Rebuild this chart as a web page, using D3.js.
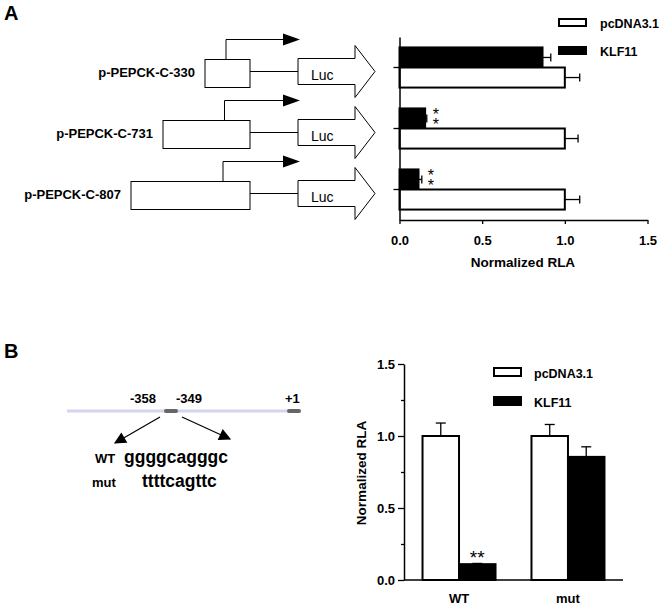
<!DOCTYPE html>
<html>
<head>
<meta charset="utf-8">
<script src="https://cdn.jsdelivr.net/npm/d3@7"></script>
<style>
  body { margin: 0; background: #fff; }
  svg text { font-family: "Liberation Sans", Arial, sans-serif; font-weight: bold; }
</style>
</head>
<body>
<div id="chart"></div>
<script>
// --- data: panel A ---
const constructs = ["p-PEPCK-C-330", "p-PEPCK-C-731", "p-PEPCK-C-807"];
const seriesNames = ["KLF11", "pcDNA3.1"];
const klfA = [0.865, 0.155, 0.115];
const klfAErr = [0.05, 0.01, 0.02];
const pcA = [1.0, 1.0, 1.0];
const pcAErr = [0.09, 0.08, 0.09];
const starsA = ["", "**", "**"];
const xTicksA = [0, 0.5, 1.0, 1.5];

// --- data: panel B ---
const groupsB = ["WT", "mut"];
const pcB = [1.0, 1.0];
const pcBErr = [0.09, 0.08];
const klfB = [0.11, 0.855];
const klfBErr = [0.005, 0.07];
const starsB = ["**", ""];
const yTicksB = [0, 0.5, 1.0, 1.5];
const yMinorB = [0.25, 0.75, 1.25];

const W = 664, H = 607;
const svg = d3.select("#chart").append("svg")
    .attr("width", W).attr("height", H);

const defs = svg.append("defs");
defs.append("marker")
    .attr("id", "head")
    .attr("viewBox", "0 0 10 10")
    .attr("refX", 9).attr("refY", 5)
    .attr("markerWidth", 14).attr("markerHeight", 12)
    .attr("markerUnits", "userSpaceOnUse")
    .attr("orient", "auto")
    .append("path").attr("d", "M0,0 L10,5 L0,10 Z").attr("fill", "#000");

// panel letters
svg.append("text").attr("x", 4).attr("y", 20).style("font-size", "20px").text("A");
svg.append("text").attr("x", 4).attr("y", 358).style("font-size", "20px").text("B");

// ================= Panel A chart =================
const xA = d3.scaleLinear().domain([0, 1.5]).range([399.5, 647.5]);
const yA = d3.scaleBand().domain(constructs).range([37, 220]).padding(0);
const ySub = d3.scaleBand().domain(seriesNames).range([0, yA.bandwidth()])
    .paddingInner(0).paddingOuter(0.52);

const gA = svg.append("g");

const rowsA = constructs.map((c, i) => ({
  c, vals: [
    {s: "KLF11", v: klfA[i], e: klfAErr[i]},
    {s: "pcDNA3.1", v: pcA[i], e: pcAErr[i]}
  ], star: starsA[i]
}));

const rowG = gA.selectAll("g.row").data(rowsA).join("g")
    .attr("class", "row")
    .attr("transform", d => `translate(0,${yA(d.c)})`);

// error bars (one-sided)
rowG.selectAll("g.err").data(d => d.vals).join("g").attr("class", "err")
  .each(function(d) {
    const g = d3.select(this);
    const cy = ySub(d.s) + ySub.bandwidth() / 2;
    g.append("line").attr("x1", xA(d.v)).attr("x2", xA(d.v + d.e))
      .attr("y1", cy).attr("y2", cy).attr("stroke", "#000").attr("stroke-width", 1.3);
    g.append("line").attr("x1", xA(d.v + d.e)).attr("x2", xA(d.v + d.e))
      .attr("y1", cy - 4).attr("y2", cy + 4).attr("stroke", "#000").attr("stroke-width", 1.3);
  });

rowG.selectAll("rect").data(d => d.vals).join("rect")
    .attr("x", xA(0))
    .attr("y", d => ySub(d.s))
    .attr("width", d => xA(d.v) - xA(0))
    .attr("height", ySub.bandwidth())
    .attr("fill", d => d.s === "KLF11" ? "#000" : "#fff")
    .attr("stroke", "#000").attr("stroke-width", 2);

// stacked "**" as a single vertical run of text
rowG.filter(d => d.star).append("text")
    .attr("x", d => xA(d.vals[0].v + d.vals[0].e) + 9)
    .attr("y", ySub("KLF11") + 7.5)
    .attr("text-anchor", "middle")
    .style("writing-mode", "vertical-rl")
    .style("text-orientation", "upright")
    .style("letter-spacing", "-7px")
    .style("font-size", "16px").style("font-weight", "normal")
    .text(d => d.star);

// axes A
const yAxisA = gA.append("g").attr("transform", `translate(${xA(0)},0)`)
    .call(d3.axisLeft(yA).tickSize(6).tickSizeOuter(0).tickFormat(""));
const xAxisA = gA.append("g").attr("transform", `translate(0,220)`)
    .call(d3.axisBottom(xA).tickValues(xTicksA).tickSize(4).tickSizeOuter(0)
      .tickFormat(d3.format(".1f")));
[yAxisA, xAxisA].forEach(a => {
  a.select(".domain").attr("stroke-width", 1.5);
  a.selectAll(".tick line").attr("stroke-width", 1.3);
});
xAxisA.selectAll("text").attr("fill", "#000").style("font-size", "13px").attr("dy", "1.4em");
gA.append("text").attr("x", 523).attr("y", 267).attr("text-anchor", "middle")
    .style("font-size", "13.5px").text("Normalized RLA");

// legend A
const legA = [{s: "pcDNA3.1", y: 19}, {s: "KLF11", y: 47}];
legA.forEach(d => {
  gA.append("rect").attr("x", 559).attr("y", d.y).attr("width", 27).attr("height", 7)
    .attr("fill", d.s === "KLF11" ? "#000" : "#fff").attr("stroke", "#000").attr("stroke-width", 2);
  gA.append("text").attr("x", 600).attr("y", d.y + 9).style("font-size", "12.5px").text(d.s);
});

// ================= Panel A schematics =================
const boxLeft = [205, 163, 131];
const sch = svg.append("g");
constructs.forEach((c, i) => {
  const cy = yA(c) + yA.bandwidth() / 2 + 4;
  const g = sch.append("g");
  // promoter box
  g.append("rect").attr("x", boxLeft[i]).attr("y", cy - 12).attr("width", 250 - boxLeft[i])
    .attr("height", 28).attr("fill", "#fff").attr("stroke", "#000").attr("stroke-width", 1);
  // transcription start arrow
  const ax = 226 - i * 1.5;
  g.append("path").attr("d", `M${ax},${cy - 12} V${cy - 32} H${284}`)
    .attr("fill", "none").attr("stroke", "#000").attr("stroke-width", 1);
  g.append("path").attr("d", `M${283},${cy - 38} L${300},${cy - 32} L${283},${cy - 26} Z`)
    .attr("fill", "#000");
  // connector
  g.append("line").attr("x1", 250).attr("x2", 298).attr("y1", cy).attr("y2", cy)
    .attr("stroke", "#000").attr("stroke-width", 1);
  // Luc arrow
  g.append("path")
    .attr("d", `M298,${cy - 13} H355 V${cy - 26} L375,${cy} L355,${cy + 26} V${cy + 13} H298 Z`)
    .attr("fill", "#fff").attr("stroke", "#000").attr("stroke-width", 1);
  g.append("text").attr("x", 311).attr("y", cy + 8).style("font-size", "14px")
    .style("font-weight", "normal").text("Luc");
  g.append("text").attr("x", boxLeft[i] - 10).attr("y", cy + 5).attr("text-anchor", "end")
    .style("font-size", "13px").text(c);
});

// ================= Panel B schematic =================
const sb = svg.append("g");
sb.append("line").attr("x1", 67).attr("x2", 300).attr("y1", 411).attr("y2", 411)
  .attr("stroke", "#d4d4ee").attr("stroke-width", 3);
[[166, 176], [289, 299]].forEach(s => {
  sb.append("line").attr("x1", s[0]).attr("x2", s[1]).attr("y1", 411).attr("y2", 411)
    .attr("stroke", "#666").attr("stroke-width", 4).attr("stroke-linecap", "round");
});
sb.append("text").attr("x", 130).attr("y", 403).style("font-size", "13px").text("-358");
sb.append("text").attr("x", 176).attr("y", 403).style("font-size", "13px").text("-349");
sb.append("text").attr("x", 285).attr("y", 403).style("font-size", "13px").text("+1");
sb.append("line").attr("x1", 160).attr("y1", 417).attr("x2", 115).attr("y2", 443)
  .attr("stroke", "#000").attr("stroke-width", 1.2).attr("marker-end", "url(#head)");
sb.append("line").attr("x1", 182).attr("y1", 417).attr("x2", 230).attr("y2", 439)
  .attr("stroke", "#000").attr("stroke-width", 1.2).attr("marker-end", "url(#head)");
sb.append("text").attr("x", 95).attr("y", 463).style("font-size", "13px").text("WT");
sb.append("text").attr("x", 124).attr("y", 463).style("font-size", "17.5px").text("ggggcagggc");
sb.append("text").attr("x", 92).attr("y", 487).style("font-size", "13px").text("mut");
sb.append("text").attr("x", 142).attr("y", 487).style("font-size", "17.5px").text("ttttcagttc");

// ================= Panel B chart =================
const yB = d3.scaleLinear().domain([0, 1.5]).range([580, 364]);
const xB = d3.scaleBand().domain(groupsB).range([404, 623]).paddingInner(0.33).paddingOuter(0.17);
const xSub = d3.scaleBand().domain(["pcDNA3.1", "KLF11"]).range([0, xB.bandwidth()]).padding(0);

const gB = svg.append("g");
const rowsB = groupsB.map((g, i) => ({
  g, vals: [
    {s: "pcDNA3.1", v: pcB[i], e: pcBErr[i]},
    {s: "KLF11", v: klfB[i], e: klfBErr[i]}
  ], star: starsB[i]
}));
const colG = gB.selectAll("g.col").data(rowsB).join("g")
    .attr("class", "col")
    .attr("transform", d => `translate(${xB(d.g)},0)`);

colG.selectAll("g.err").data(d => d.vals).join("g").attr("class", "err")
  .each(function(d) {
    const g = d3.select(this);
    const cx = xSub(d.s) + xSub.bandwidth() / 2;
    g.append("line").attr("x1", cx).attr("x2", cx).attr("y1", yB(d.v)).attr("y2", yB(d.v + d.e))
      .attr("stroke", "#000").attr("stroke-width", 1.3);
    g.append("line").attr("x1", cx - 5).attr("x2", cx + 5).attr("y1", yB(d.v + d.e)).attr("y2", yB(d.v + d.e))
      .attr("stroke", "#000").attr("stroke-width", 1.3);
  });

colG.selectAll("rect").data(d => d.vals).join("rect")
    .attr("x", d => xSub(d.s))
    .attr("y", d => yB(d.v))
    .attr("width", xSub.bandwidth())
    .attr("height", d => yB(0) - yB(d.v))
    .attr("fill", d => d.s === "KLF11" ? "#000" : "#fff")
    .attr("stroke", "#000").attr("stroke-width", 2);

colG.filter(d => d.star).append("text")
    .attr("x", d => xSub("KLF11") + xSub.bandwidth() / 2)
    .attr("y", d => yB(d.vals[1].v + d.vals[1].e) + 1)
    .attr("text-anchor", "middle").style("font-size", "19px").style("font-weight", "normal")
    .text(d => d.star);

const yAxisB = gB.append("g").attr("transform", `translate(404,0)`)
    .call(d3.axisLeft(yB).tickValues(yTicksB).tickSize(6).tickSizeOuter(0)
      .tickFormat(d3.format(".1f")));
gB.append("g").attr("transform", `translate(404,0)`)
    .call(d3.axisLeft(yB).tickValues(yMinorB).tickSize(3).tickSizeOuter(0).tickFormat(""))
    .call(a => a.select(".domain").remove())
    .selectAll(".tick line").attr("stroke-width", 1.3);
const xAxisB = gB.append("g").attr("transform", `translate(0,580)`)
    .call(d3.axisBottom(xB).tickSize(0).tickSizeOuter(0));
xAxisB.select(".domain").attr("d", "M404,0H623");
[yAxisB, xAxisB].forEach(a => {
  a.select(".domain").attr("stroke-width", 1.5);
  a.selectAll(".tick line").attr("stroke-width", 1.3);
});
yAxisB.selectAll("text").attr("fill", "#000").style("font-size", "13px").attr("x", -9);
xAxisB.selectAll("text").attr("fill", "#000").style("font-size", "13px").attr("dy", "1.55em");

gB.append("text").attr("transform", "translate(366,473) rotate(-90)")
    .attr("text-anchor", "middle").style("font-size", "13.5px").text("Normalized RLA");

const legB = [{s: "pcDNA3.1", y: 368}, {s: "KLF11", y: 397}];
legB.forEach(d => {
  gB.append("rect").attr("x", 494).attr("y", d.y).attr("width", 27).attr("height", 8)
    .attr("fill", d.s === "KLF11" ? "#000" : "#fff").attr("stroke", "#000").attr("stroke-width", 2);
  gB.append("text").attr("x", 534).attr("y", d.y + 10).style("font-size", "12.5px").text(d.s);
});
</script>
</body>
</html>
